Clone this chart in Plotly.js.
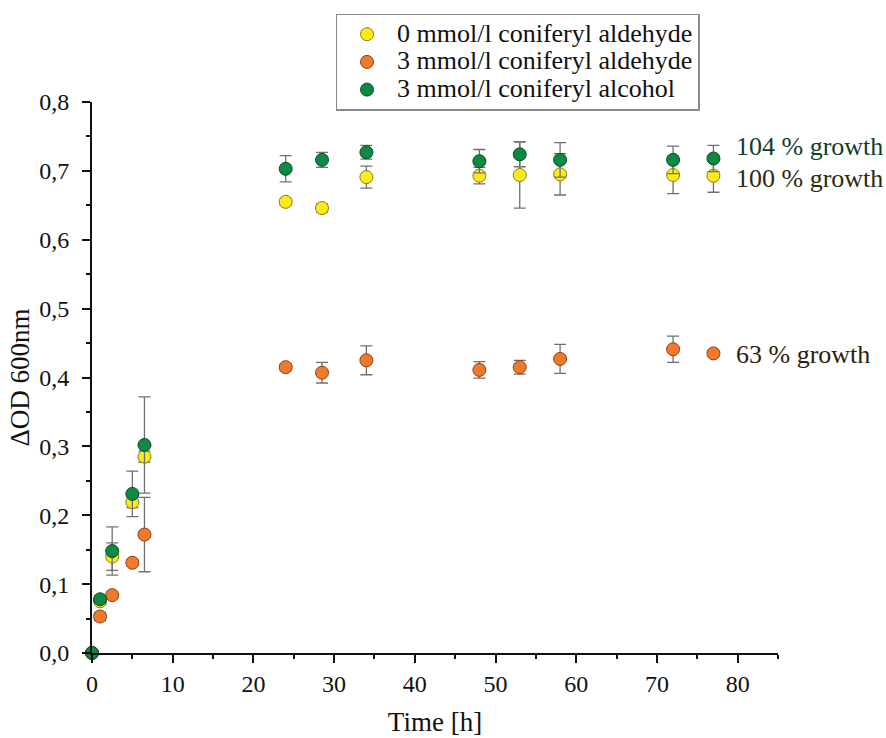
<!DOCTYPE html>
<html>
<head>
<meta charset="utf-8">
<script src="https://cdn.plot.ly/plotly-3.0.1.min.js"></script>
<style>html,body{margin:0;padding:0;background:#fff;}#chart{width:886px;height:738px;}</style>
</head>
<body>
<div id="chart"></div>
<script>
const timeH = [0, 1, 2.5, 5, 6.5, 24, 28.5, 34, 48, 53, 58, 72, 77];
const ald0 = [0, 0.075, 0.140, 0.219, 0.285, 0.655, 0.646, 0.691, 0.693, 0.694, 0.695, 0.694, 0.693];
const ald0Err = [0, 0.004, 0.020, 0.008, 0.008, 0.005, 0.006, 0.016, 0.012, 0.048, 0.030, 0.027, 0.024];
const ald3 = [0, 0.053, 0.084, 0.131, 0.172, 0.415, 0.407, 0.425, 0.411, 0.415, 0.427, 0.441, 0.435];
const ald3Err = [0, 0.006, 0.005, 0.005, 0.054, 0.005, 0.015, 0.021, 0.012, 0.010, 0.021, 0.019, 0.004];
const alc3 = [0, 0.078, 0.148, 0.231, 0.302, 0.703, 0.716, 0.727, 0.714, 0.724, 0.716, 0.716, 0.718];
const alc3Err = [0, 0.005, 0.035, 0.033, 0.070, 0.019, 0.011, 0.010, 0.017, 0.018, 0.025, 0.020, 0.019];
const seriesNames = ['0 mmol/l coniferyl aldehyde', '3 mmol/l coniferyl aldehyde', '3 mmol/l coniferyl alcohol'];
const growthLabels = ['104 % growth', '100 % growth', '63 % growth'];
const growthY = [0.735, 0.689, 0.434];

const serif = '"Liberation Serif", "Times New Roman", Times, serif';
function trace(name, y, err, fill, edge) {
  return {
    type: 'scatter', mode: 'markers', name: '<span style="font-size:26px">' + name + '</span>',
    x: timeH, y: y, cliponaxis: false,
    marker: {size: 13, color: fill, line: {color: edge, width: 1}},
    error_y: {type: 'data', array: err, visible: true, color: '#707070', thickness: 1.3, width: 6}
  };
}
const data = [
  trace(seriesNames[0], ald0, ald0Err, '#FCEB1C', '#8C7C10'),
  trace(seriesNames[1], ald3, ald3Err, '#F07A2A', '#8E4012'),
  trace(seriesNames[2], alc3, alc3Err, '#0C8A45', '#0A4A28')
];
const growthColors = ['#0F3D2E', '#2C2A10', '#2E1C0C'];
const annotations = growthLabels.map((t, i) => ({
  x: 79.5, y: growthY[i], xref: 'x', yref: 'y', text: t, showarrow: false,
  xanchor: 'left', yanchor: 'middle', font: {family: serif, size: 26, color: growthColors[i]}
}));
const layout = {
  width: 886, height: 738,
  margin: {l: 92, r: 108, t: 102, b: 85},
  paper_bgcolor: '#fff', plot_bgcolor: '#fff',
  separators: ',.',
  showlegend: true,
  legend: {x: 0.355, y: 1.16, xanchor: 'left', yanchor: 'top', bgcolor: '#fff',
    bordercolor: '#8a8a8a', borderwidth: 1.5, font: {family: serif, size: 19, color: '#111'},
    tracegroupgap: 0, itemwidth: 50},
  xaxis: {
    range: [0, 85], showgrid: false, zeroline: false, showline: true, linecolor: '#111', linewidth: 2,
    ticks: 'outside', ticklen: 8, tickwidth: 2, tickcolor: '#111', dtick: 10, tick0: 0,
    minor: {dtick: 5, ticks: 'outside', ticklen: 4, tickwidth: 2, tickcolor: '#111'},
    tickfont: {family: serif, size: 24, color: '#111'},
    title: {text: 'Time [h]', font: {family: serif, size: 27, color: '#111'}, standoff: 16}
  },
  yaxis: {
    range: [0, 0.8], showgrid: false, zeroline: false, showline: true, linecolor: '#111', linewidth: 2,
    ticks: 'outside', ticklen: 8, tickwidth: 2, tickcolor: '#111', dtick: 0.1, tick0: 0, tickformat: '.1f',
    minor: {dtick: 0.05, ticks: 'outside', ticklen: 4, tickwidth: 2, tickcolor: '#111'},
    tickfont: {family: serif, size: 24, color: '#111'}, ticklabelstandoff: 8,
    title: {text: 'ΔOD 600nm', font: {family: serif, size: 27, color: '#111'}, standoff: 2}
  },
  annotations: annotations
};
Plotly.newPlot('chart', data, layout, {displayModeBar: false, staticPlot: true});
</script>
</body>
</html>
